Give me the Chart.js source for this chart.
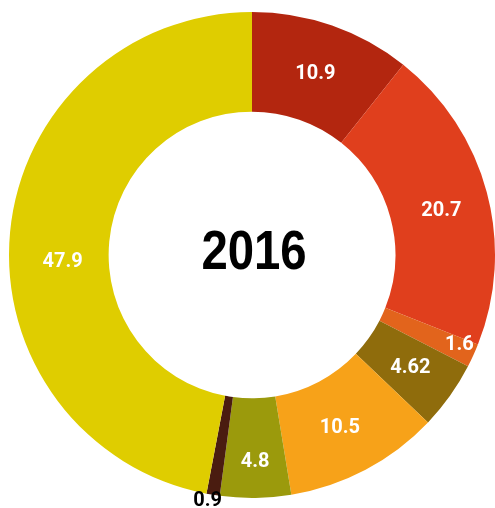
<!DOCTYPE html>
<html>
<head>
<meta charset="utf-8">
<script src="https://cdn.jsdelivr.net/npm/chart.js@4/dist/chart.umd.min.js"></script>
<style>
  html, body { margin: 0; padding: 0; background: #fff; overflow: hidden; }
  #wrap { position: absolute; left: 0; top: 0; width: 495px; height: 508px; overflow: hidden; }
  canvas { position: absolute; left: 0; top: 0; }
</style>
</head>
<body>
<div id="wrap"><canvas id="chart" width="504" height="510"></canvas></div>
<script>
const categories = ["A", "B", "C", "D", "E", "F", "G", "H"];
const values = [10.9, 20.7, 1.6, 4.62, 10.5, 4.8, 0.9, 47.9];
const valueLabels = ["10.9", "20.7", "1.6", "4.62", "10.5", "4.8", "0.9", "47.9"];
const centerTitle = "2016";

const sliceColors = ["#b3260f", "#e03f1d", "#e2641c", "#8f6c0c", "#f7a219", "#9b9a0c", "#4a1c10", "#dfcd00"];
// label placement: share of outer radius, and a small turn in degrees
const labelRadius = [0.79, 0.8, 0.93, 0.8, 0.8, 0.85, 1.03, 0.78];
const labelTurn = [0, 2, -1, 0, 1, 0, 1, -7.5];
const labelColors = ["#fff", "#fff", "#fff", "#fff", "#fff", "#fff", "#000", "#fff"];

const sliceLabels = {
  id: "sliceLabels",
  afterDatasetsDraw(chart) {
    const ctx = chart.ctx;
    const meta = chart.getDatasetMeta(0);
    ctx.save();
    ctx.font = "bold 20px Roboto";
    ctx.textAlign = "center";
    ctx.textBaseline = "middle";
    meta.data.forEach((arc, i) => {
      const p = arc.getProps(["x", "y", "startAngle", "endAngle", "outerRadius"], true);
      const mid = (p.startAngle + p.endAngle) / 2 + (labelTurn[i] * Math.PI) / 180;
      const r = p.outerRadius * labelRadius[i];
      ctx.fillStyle = labelColors[i];
      ctx.fillText(valueLabels[i], p.x + Math.cos(mid) * r, p.y + Math.sin(mid) * r);
    });
    const a = chart.chartArea;
    ctx.translate((a.left + a.right) / 2 + 2, (a.top + a.bottom) / 2 - 1);
    ctx.scale(0.86, 1);
    ctx.fillStyle = "#000";
    ctx.font = "bold 55px 'Liberation Sans'";
    ctx.fillText(centerTitle, 0, 0);
    ctx.restore();
  },
};

new Chart(document.getElementById("chart"), {
  type: "doughnut",
  data: {
    labels: categories,
    datasets: [
      {
        data: values,
        backgroundColor: sliceColors,
        borderWidth: 0,
      },
    ],
  },
  options: {
    responsive: false,
    animation: false,
    cutout: "59%",
    layout: { padding: { left: 9, right: 9, top: 12, bottom: 12 } },
    plugins: {
      legend: { display: false },
      tooltip: { enabled: false },
    },
  },
  plugins: [sliceLabels],
});
</script>
</body>
</html>
